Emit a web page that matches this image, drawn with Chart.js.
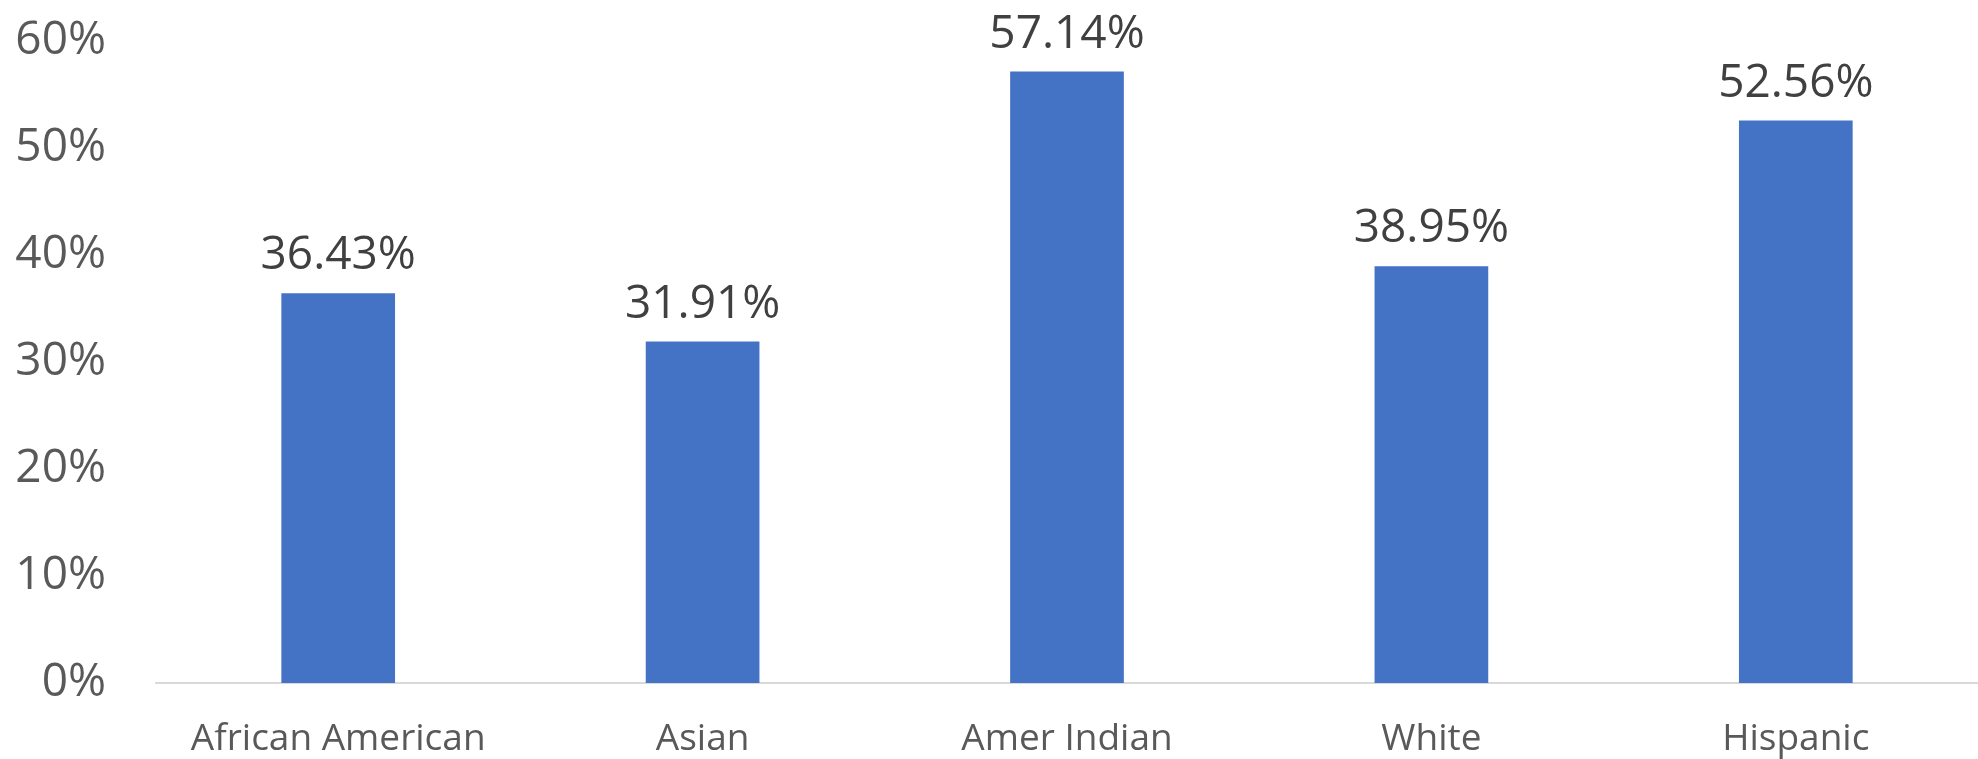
<!DOCTYPE html>
<html>
<head>
<meta charset="utf-8">
<script src="https://cdn.jsdelivr.net/npm/chart.js@4"></script>
<style>
  html, body { margin: 0; padding: 0; background: #fff; }
  #wrap { width: 1978px; height: 759px; }
</style>
</head>
<body>
<div id="wrap"><canvas id="canvas" width="1978" height="759"></canvas></div>
<script>
'use strict';

var categories = ['African American', 'Asian', 'Amer Indian', 'White', 'Hispanic'];
var rates = [36.43, 31.91, 57.14, 38.95, 52.56];
var yTicks = [0, 10, 20, 30, 40, 50, 60];

var FONT = '"Open Sans", "Noto Sans", sans-serif';

// draws the value above each bar, like the excel data labels
var valueLabels = {
    id: 'valueLabels',
    afterDatasetsDraw: function (chart) {
        var ctx = chart.ctx;
        var meta = chart.getDatasetMeta(0);
        ctx.save();
        ctx.font = '46px ' + FONT;
        ctx.fillStyle = '#404040';
        ctx.textAlign = 'center';
        ctx.textBaseline = 'alphabetic';
        meta.data.forEach(function (bar, i) {
            ctx.fillText(rates[i].toFixed(2) + '%', bar.x, bar.y - 24);
        });
        ctx.restore();
    }
};

var ctx = document.getElementById('canvas').getContext('2d');
var myBar = new Chart(ctx, {
    type: 'bar',
    data: {
        labels: categories,
        datasets: [{
            data: rates,
            backgroundColor: '#4472C4',
            borderWidth: 0,
            categoryPercentage: 1,
            barPercentage: 0.312
        }]
    },
    options: {
        responsive: false,
        animation: false,
        layout: { padding: { top: 41, left: 0, right: -5, bottom: 0 } },
        plugins: {
            legend: { display: false },
            tooltip: { enabled: false }
        },
        scales: {
            x: {
                grid: { display: false, drawTicks: false },
                border: { display: true, color: '#D9D9D9', width: 2 },
                ticks: {
                    color: '#595959',
                    font: { family: FONT, size: 37 },
                    padding: 34,
                    maxRotation: 0,
                    autoSkip: false
                },
                afterFit: function (scale) { scale.height = 76; }
            },
            y: {
                min: 0,
                max: 60,
                afterBuildTicks: function (scale) {
                    scale.ticks = yTicks.map(function (v) { return { value: v }; });
                },
                grid: { display: false, drawTicks: false },
                border: { display: false },
                ticks: {
                    color: '#595959',
                    font: { family: FONT, size: 46 },
                    padding: 50,
                    callback: function (v) { return v + '%'; }
                },
                afterFit: function (scale) {
                    scale.width = 156;
                    // no extra room for the end labels, keeps the plot area fixed
                    scale.paddingTop = 0;
                    scale.paddingBottom = 0;
                }
            }
        }
    },
    plugins: [valueLabels]
});
</script>
</body>
</html>
